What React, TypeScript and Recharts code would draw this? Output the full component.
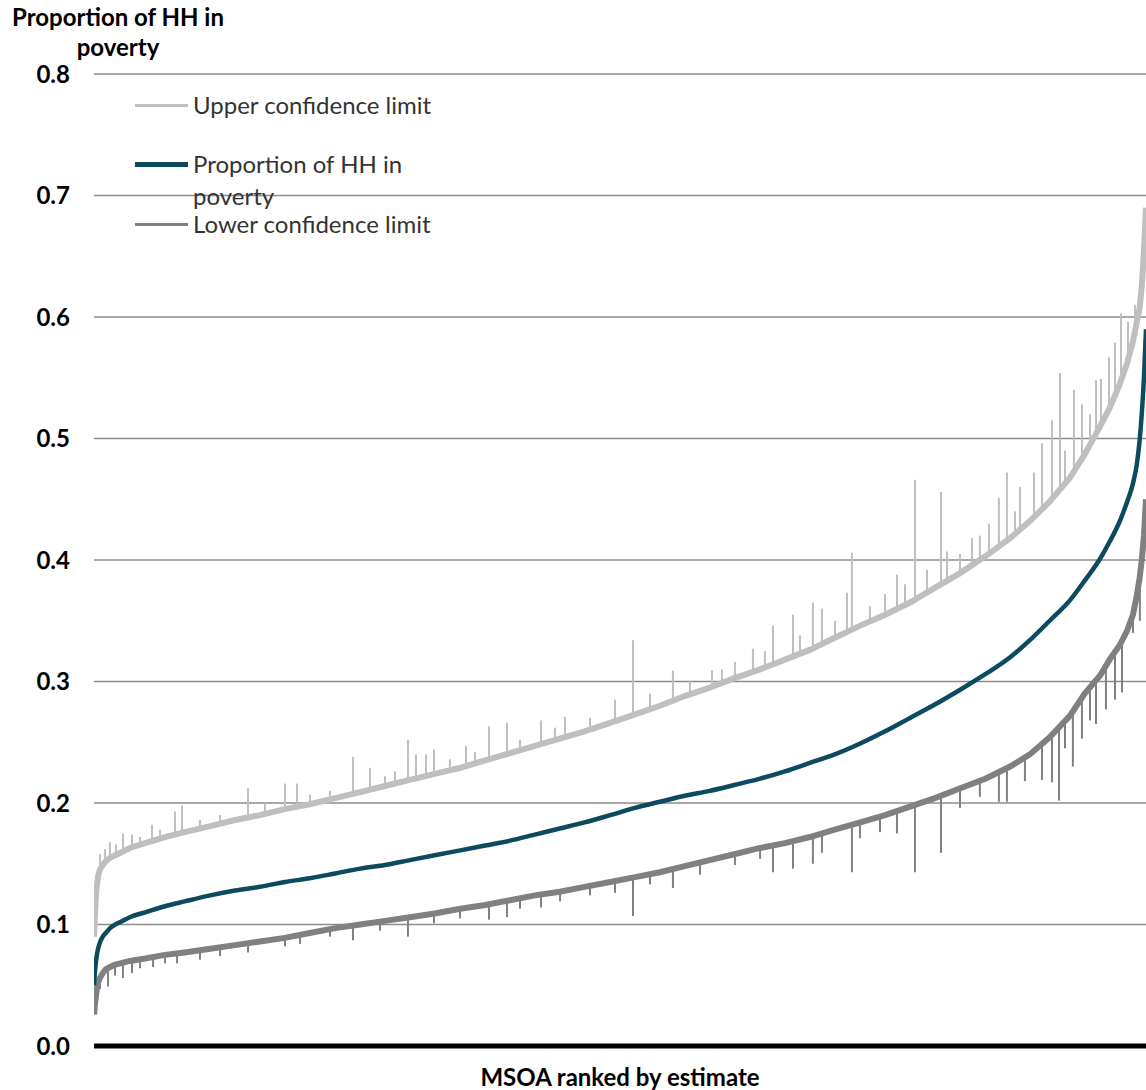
import React from "react";
import { LineChart, Line, XAxis, YAxis, CartesianGrid, ReferenceLine } from "recharts";

// MSOA rank (sample points along the ranking, England & Wales = 7194 MSOAs)
const ranks = [
    0, 7, 14, 21, 28, 40, 60, 80, 110, 145, 180, 245, 350, 485, 620, 795, 965, 1135, 1305, 1475,
    1650, 1820, 1990, 2160, 2330, 2505, 2675, 2845, 3015, 3185, 3355, 3530, 3700, 3870, 4040, 4210,
    4385, 4555, 4725, 4895, 5065, 5240, 5410, 5580, 5750, 5920, 6095, 6265, 6400, 6535, 6675, 6775,
    6880, 6945, 7015, 7065, 7105, 7130, 7150, 7165, 7180, 7194,
];

const estimate = [
    0.05, 0.062, 0.07, 0.076, 0.08, 0.085, 0.09, 0.093, 0.097, 0.1, 0.102, 0.106, 0.11, 0.115, 0.119, 0.124,
    0.128, 0.131, 0.135, 0.138, 0.142, 0.146, 0.149, 0.153, 0.157, 0.161, 0.165, 0.169, 0.174, 0.179, 0.184,
    0.19, 0.196, 0.201, 0.206, 0.21, 0.215, 0.22, 0.226, 0.233, 0.24, 0.249, 0.259, 0.27, 0.281, 0.293,
    0.306, 0.32, 0.334, 0.35, 0.367, 0.383, 0.401, 0.415, 0.432, 0.448, 0.463, 0.478, 0.498, 0.52, 0.55, 0.59,
];

const upperLimit = [
    0.09, 0.11, 0.125, 0.133, 0.14, 0.145, 0.149, 0.152, 0.155, 0.157, 0.159, 0.163, 0.167, 0.172, 0.176, 0.181,
    0.186, 0.19, 0.195, 0.199, 0.204, 0.209, 0.214, 0.219, 0.224, 0.229, 0.235, 0.241, 0.247, 0.253, 0.259,
    0.266, 0.273, 0.28, 0.288, 0.295, 0.303, 0.31, 0.318, 0.326, 0.336, 0.346, 0.355, 0.365, 0.377, 0.389,
    0.403, 0.418, 0.432, 0.448, 0.468, 0.487, 0.51, 0.525, 0.545, 0.562, 0.58, 0.595, 0.607, 0.625, 0.655, 0.69,
];

const lowerLimit = [
    0.026, 0.035, 0.042, 0.048, 0.052, 0.056, 0.06, 0.063, 0.065, 0.067, 0.068, 0.07, 0.072, 0.075, 0.077, 0.08,
    0.083, 0.086, 0.089, 0.093, 0.097, 0.1, 0.103, 0.106, 0.109, 0.113, 0.116, 0.12, 0.124, 0.127, 0.131,
    0.135, 0.139, 0.143, 0.148, 0.153, 0.158, 0.163, 0.167, 0.172, 0.178, 0.184, 0.19, 0.197, 0.204, 0.212,
    0.22, 0.23, 0.24, 0.254, 0.272, 0.29, 0.305, 0.318, 0.33, 0.342, 0.355, 0.37, 0.385, 0.4, 0.42, 0.45,
];

// [rank, band value, spike value] for the MSOAs with unusually wide intervals
const upperSpikes: [number, number, number][] = [
    [41, 0.145, 0.158], [75, 0.151, 0.162], [109, 0.155, 0.168], [150, 0.157, 0.166], [198, 0.16, 0.175],
    [260, 0.163, 0.174], [315, 0.165, 0.172], [397, 0.169, 0.182], [451, 0.171, 0.178], [554, 0.174, 0.193],
    [602, 0.175, 0.198], [725, 0.179, 0.186], [862, 0.183, 0.19], [1053, 0.188, 0.212], [1169, 0.191, 0.2],
    [1306, 0.195, 0.216], [1388, 0.197, 0.216], [1477, 0.199, 0.207], [1614, 0.203, 0.21], [1771, 0.208, 0.238],
    [1887, 0.211, 0.229], [1990, 0.214, 0.222], [2058, 0.216, 0.226], [2147, 0.219, 0.252], [2202, 0.22, 0.24],
    [2270, 0.222, 0.24], [2325, 0.224, 0.244], [2434, 0.227, 0.236], [2544, 0.231, 0.247], [2605, 0.233, 0.242],
    [2701, 0.236, 0.263], [2824, 0.24, 0.266], [2913, 0.243, 0.252], [3057, 0.248, 0.268], [3152, 0.252, 0.262],
    [3221, 0.254, 0.271], [3392, 0.26, 0.27], [3563, 0.267, 0.285], [3686, 0.272, 0.334], [3802, 0.277, 0.29],
    [3959, 0.282, 0.309], [4075, 0.289, 0.3], [4226, 0.295, 0.309], [4294, 0.298, 0.31], [4383, 0.303, 0.316],
    [4506, 0.308, 0.327], [4588, 0.312, 0.325], [4643, 0.314, 0.346], [4780, 0.32, 0.355], [4828, 0.322, 0.338],
    [4916, 0.327, 0.365], [4978, 0.33, 0.36], [5067, 0.336, 0.35], [5149, 0.34, 0.373], [5183, 0.342, 0.406],
    [5306, 0.35, 0.362], [5409, 0.355, 0.372], [5491, 0.36, 0.388], [5546, 0.363, 0.38], [5614, 0.367, 0.466],
    [5696, 0.372, 0.392], [5792, 0.38, 0.456], [5833, 0.383, 0.407], [5922, 0.389, 0.405], [6004, 0.395, 0.418],
    [6058, 0.4, 0.42], [6120, 0.405, 0.43], [6188, 0.411, 0.451], [6243, 0.416, 0.472], [6298, 0.421, 0.44],
    [6332, 0.425, 0.46], [6428, 0.435, 0.472], [6483, 0.441, 0.496], [6551, 0.45, 0.515], [6606, 0.457, 0.554],
    [6640, 0.463, 0.49], [6701, 0.472, 0.54], [6756, 0.481, 0.528], [6811, 0.494, 0.52], [6852, 0.503, 0.548],
    [6886, 0.512, 0.549], [6941, 0.524, 0.567], [6982, 0.532, 0.579], [7023, 0.547, 0.603], [7071, 0.565, 0.596],
    [7119, 0.588, 0.61],
];

const lowerSpikes: [number, number, number][] = [
    [41, 0.056, 0.047], [96, 0.064, 0.049], [144, 0.067, 0.058], [198, 0.068, 0.056], [260, 0.07, 0.06],
    [315, 0.071, 0.064], [404, 0.073, 0.065], [486, 0.075, 0.068], [568, 0.076, 0.068], [725, 0.079, 0.071],
    [862, 0.081, 0.074], [1053, 0.085, 0.077], [1306, 0.089, 0.082], [1409, 0.091, 0.084], [1614, 0.096, 0.09],
    [1771, 0.099, 0.087], [1956, 0.102, 0.095], [2147, 0.106, 0.09], [2325, 0.109, 0.101], [2503, 0.113, 0.105],
    [2701, 0.117, 0.104], [2824, 0.119, 0.106], [2913, 0.121, 0.113], [3057, 0.125, 0.114], [3187, 0.127, 0.119],
    [3392, 0.132, 0.124], [3563, 0.136, 0.126], [3686, 0.14, 0.107], [3802, 0.141, 0.133], [3959, 0.145, 0.13],
    [4144, 0.151, 0.141], [4383, 0.158, 0.149], [4555, 0.163, 0.154], [4643, 0.165, 0.143], [4780, 0.168, 0.146],
    [4916, 0.172, 0.15], [4978, 0.174, 0.159], [5183, 0.182, 0.143], [5238, 0.184, 0.171], [5375, 0.189, 0.176],
    [5491, 0.193, 0.175], [5614, 0.199, 0.143], [5792, 0.206, 0.159], [5922, 0.212, 0.196], [6058, 0.218, 0.205],
    [6188, 0.225, 0.201], [6243, 0.228, 0.201], [6366, 0.237, 0.218], [6483, 0.248, 0.219], [6551, 0.258, 0.217],
    [6599, 0.264, 0.202], [6640, 0.268, 0.245], [6694, 0.279, 0.23], [6756, 0.287, 0.253], [6811, 0.295, 0.268],
    [6852, 0.302, 0.265], [6920, 0.314, 0.277], [6982, 0.325, 0.285], [7030, 0.334, 0.291], [7105, 0.355, 0.34],
    [7152, 0.385, 0.35],
];

const yTicks = [0, 0.1, 0.2, 0.3, 0.4, 0.5, 0.6, 0.7, 0.8];

const seriesNames = ["Upper confidence limit", "Proportion of HH in poverty", "Lower confidence limit"];

const UPPER = "#bfbfbf";
const MID = "#0c4a60";
const LOWER = "#808080";
const FONT = "Lato, 'Open Sans', sans-serif";

const upperData = ranks.map((rank, i) => ({ rank, value: upperLimit[i] }));
const estimateData = ranks.map((rank, i) => ({ rank, value: estimate[i] }));
const lowerData = ranks.map((rank, i) => ({ rank, value: lowerLimit[i] }));

function LegendItem({ color, width, top, label }: { color: string; width: number; top: number; label: string }) {
    return (
        <div style={{ position: "absolute", left: 135, top, display: "flex", alignItems: "flex-start" }}>
            <div style={{ width: 53, height: width, background: color, marginTop: 14 - width / 2 }} />
            <div style={{ width: 250, fontSize: 24, lineHeight: "32px", color: "#333", marginTop: -2, marginLeft: 5 }}>
                {label}
            </div>
        </div>
    );
}

export default function App() {
    return (
        <div
            style={{
                position: "absolute",
                left: 0,
                top: 0,
                width: 1146,
                height: 1090,
                background: "#fff",
                fontFamily: FONT,
            }}
        >
            <LineChart width={1146} height={1090} margin={{ top: 74, right: 0, bottom: 0, left: 0 }}>
                <CartesianGrid horizontal vertical={false} stroke="#8c8c8c" strokeWidth={1.5} />
                <XAxis
                    type="number"
                    dataKey="rank"
                    domain={[0, 7194]}
                    tick={false}
                    tickLine={false}
                    height={44}
                    axisLine={{ stroke: "#000", strokeWidth: 5 }}
                    allowDataOverflow
                />
                <YAxis
                    type="number"
                    domain={[0, 0.8]}
                    ticks={yTicks}
                    width={94}
                    axisLine={false}
                    tickLine={false}
                    tickSize={0}
                    tickMargin={24}
                    tickFormatter={(v: number) => v.toFixed(1)}
                    tick={{ fill: "#000", fontSize: 24, fontWeight: 700, fontFamily: FONT }}
                />
                <Line
                    data={upperData}
                    dataKey="value"
                    name={seriesNames[0]}
                    type="linear"
                    stroke={UPPER}
                    strokeWidth={6}
                    dot={false}
                    isAnimationActive={false}
                />
                {upperSpikes.map(([r, base, peak]) => (
                    <ReferenceLine
                        key={"u" + r}
                        segment={[{ x: r, y: base }, { x: r, y: peak }]}
                        stroke={UPPER}
                        strokeWidth={2}
                    />
                ))}
                <Line
                    data={lowerData}
                    dataKey="value"
                    name={seriesNames[2]}
                    type="linear"
                    stroke={LOWER}
                    strokeWidth={6}
                    dot={false}
                    isAnimationActive={false}
                />
                {lowerSpikes.map(([r, base, dip]) => (
                    <ReferenceLine
                        key={"l" + r}
                        segment={[{ x: r, y: base }, { x: r, y: dip }]}
                        stroke={LOWER}
                        strokeWidth={2}
                    />
                ))}
                <Line
                    data={estimateData}
                    dataKey="value"
                    name={seriesNames[1]}
                    type="monotone"
                    stroke={MID}
                    strokeWidth={4.5}
                    dot={false}
                    isAnimationActive={false}
                />
            </LineChart>

            {/* y axis title */}
            <div
                style={{
                    position: "absolute",
                    left: 8,
                    top: 2,
                    width: 220,
                    textAlign: "center",
                    fontSize: 24,
                    fontWeight: 700,
                    lineHeight: "30px",
                }}
            >
                Proportion of HH in
                <br />
                poverty
            </div>

            {/* legend */}
            <LegendItem color={UPPER} width={3} top={91} label={seriesNames[0]} />
            <LegendItem color={MID} width={5} top={150} label={seriesNames[1]} />
            <LegendItem color={LOWER} width={3} top={210} label={seriesNames[2]} />

            {/* x axis title */}
            <div
                style={{
                    position: "absolute",
                    left: 0,
                    top: 1062,
                    width: 1240,
                    textAlign: "center",
                    fontSize: 24,
                    fontWeight: 700,
                }}
            >
                MSOA ranked by estimate
            </div>
        </div>
    );
}
